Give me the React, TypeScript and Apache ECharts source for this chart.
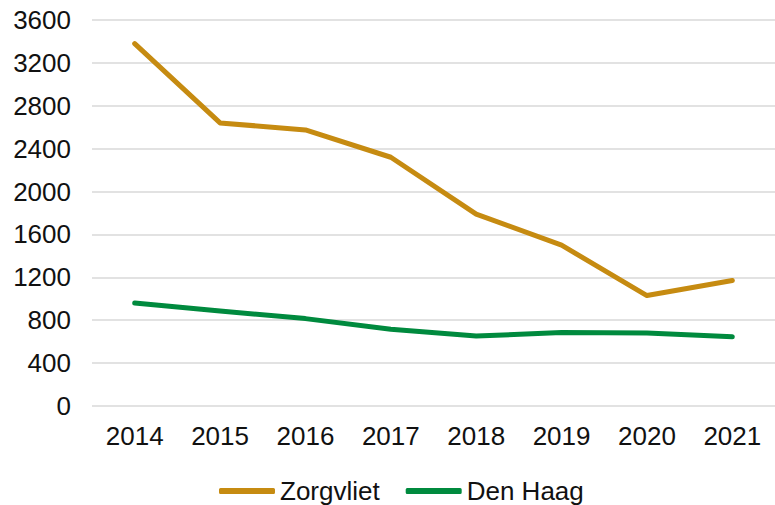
import React, { useEffect, useRef } from "react";
import * as echarts from "echarts";

const years = ["2014", "2015", "2016", "2017", "2018", "2019", "2020", "2021"];
const zorgvliet = [3380, 2640, 2575, 2320, 1790, 1500, 1030, 1170];
const denHaag = [960, 885, 815, 715, 652, 685, 680, 645];
const seriesNames = ["Zorgvliet", "Den Haag"];
const colors = ["#C68B11", "#008A3E"];

export default function App() {
  const ref = useRef<HTMLDivElement>(null);
  useEffect(() => {
    if (!ref.current) return;
    const chart = echarts.init(ref.current, undefined, { renderer: "svg" });
    const font = "'Liberation Sans', Arial, sans-serif";
    chart.setOption({
      animation: false,
      backgroundColor: "#ffffff",
      textStyle: { fontFamily: font },
      grid: { left: 92, top: 20, width: 692, height: 386, containLabel: false },
      legend: {
        data: seriesNames,
        top: 478,
        left: 219,
        padding: 0,
        itemWidth: 56,
        itemHeight: 6,
        itemGap: 26,
        icon: "roundRect",
        textStyle: { fontSize: 26, lineHeight: 26, color: "#111", fontFamily: font },
      },
      xAxis: {
        type: "category",
        data: years,
        boundaryGap: true,
        axisLine: { show: false },
        axisTick: { show: false },
        axisLabel: { fontSize: 26, color: "#111", margin: 17, fontFamily: font },
        splitLine: { show: false },
      },
      yAxis: {
        type: "value",
        min: 0,
        max: 3600,
        interval: 400,
        axisLine: { show: false },
        axisTick: { show: false },
        axisLabel: {
          fontSize: 26,
          color: "#111",
          margin: 21,
          fontFamily: font,
          formatter: (v: number) => String(v),
        },
        splitLine: { show: true, lineStyle: { color: "#D9D9D9", width: 1.5 } },
      },
      series: [
        {
          name: seriesNames[0],
          type: "line",
          data: zorgvliet,
          symbol: "none",
          color: colors[0],
          lineStyle: { width: 5, color: colors[0], cap: "round", join: "round" },
        },
        {
          name: seriesNames[1],
          type: "line",
          data: denHaag,
          symbol: "none",
          color: colors[1],
          lineStyle: { width: 5, color: colors[1], cap: "round", join: "round" },
        },
      ],
    });
    return () => chart.dispose();
  }, []);
  return (
    <div
      ref={ref}
      style={{ position: "fixed", left: 0, top: 0, width: 775, height: 505 }}
    />
  );
}
